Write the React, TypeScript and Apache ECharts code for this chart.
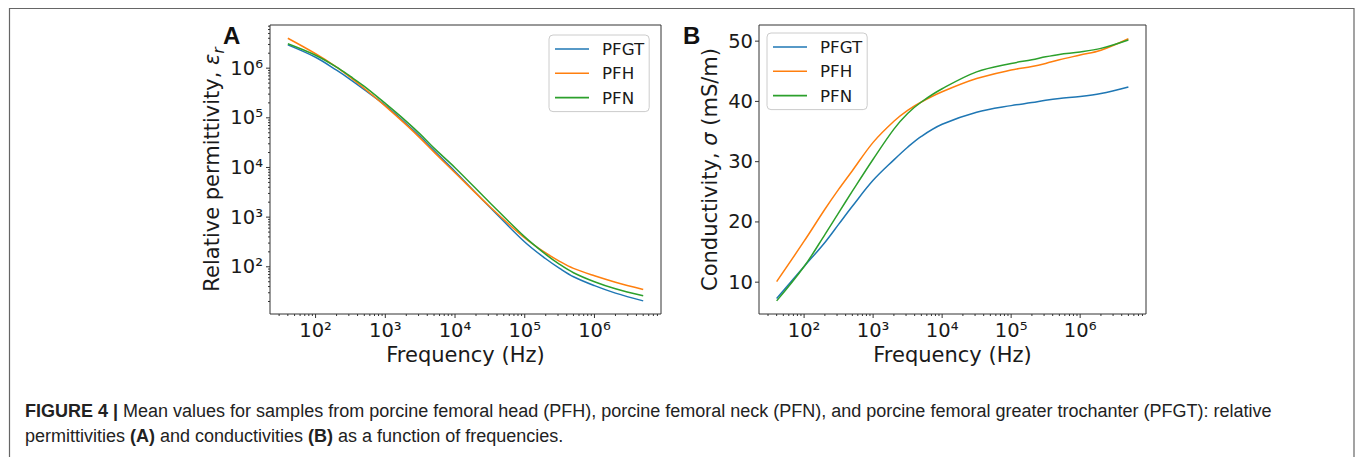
import React, { useEffect, useRef } from "react";
import * as echarts from "echarts";

// ---------- data ----------
const freqs = [
  40, 100, 200, 316, 500, 1000, 2000, 3162, 5000, 10000, 31623, 100000, 200000, 316228, 500000, 1000000, 2000000, 5000000,
];
const seriesNames = ["PFGT", "PFH", "PFN"];

// Panel A: relative permittivity
const permPFGT = [2.95e6, 1.66e6, 9.1e5, 5.9e5, 3.7e5, 1.78e5, 7.6e4, 4.2e4, 2.19e4, 8.3e3, 1.58e3, 316, 145, 93, 63, 41.7, 29.5, 20.6];
const permPFH = [4.0e6, 1.95e6, 1.05e6, 6.5e5, 3.9e5, 1.72e5, 7.2e4, 3.9e4, 2.04e4, 7.85e3, 1.62e3, 380, 190, 129, 93, 66, 49, 35];
const permPFN = [3.1e6, 1.82e6, 1.05e6, 6.8e5, 4.3e5, 1.95e5, 8.5e4, 4.7e4, 2.45e4, 9.9e3, 1.95e3, 400, 178, 112, 76, 50, 36, 26];

// Panel B: conductivity (mS/m)
const condPFGT = [7.3, 12.6, 16.6, 19.6, 22.6, 26.9, 30.3, 32.4, 34.2, 36.2, 38.2, 39.3, 39.8, 40.2, 40.5, 40.8, 41.3, 42.4];
const condPFH = [10.1, 16.8, 22.1, 25.4, 28.5, 33.2, 36.7, 38.5, 39.9, 41.6, 43.8, 45.2, 45.8, 46.3, 46.9, 47.7, 48.5, 50.4];
const condPFN = [6.9, 12.6, 17.9, 21.5, 25.1, 30.4, 35.4, 38.0, 39.9, 42.1, 44.9, 46.3, 46.9, 47.4, 47.8, 48.2, 48.8, 50.2];

// tick values
const majorFreqTicks = [100, 1000, 10000, 100000, 1000000];
const minorFreqTicks = [
  30, 40, 50, 60, 70, 80, 90,
  200, 300, 400, 500, 600, 700, 800, 900,
  2000, 3000, 4000, 5000, 6000, 7000, 8000, 9000,
  20000, 30000, 40000, 50000, 60000, 70000, 80000, 90000,
  200000, 300000, 400000, 500000, 600000, 700000, 800000, 900000,
  2000000, 3000000, 4000000, 5000000, 6000000, 7000000, 8000000,
];
const majorPermTicks = [100, 1000, 10000, 100000, 1000000];
const minorPermTicks = [
  20, 30, 40, 50, 60, 70, 80, 90,
  200, 300, 400, 500, 600, 700, 800, 900,
  2000, 3000, 4000, 5000, 6000, 7000, 8000, 9000,
  20000, 30000, 40000, 50000, 60000, 70000, 80000, 90000,
  200000, 300000, 400000, 500000, 600000, 700000, 800000, 900000,
  2000000, 3000000, 4000000, 5000000, 6000000, 7000000,
];
const condTicks = [10, 20, 30, 40, 50];

// axis ranges
const freqMin = 22.2;
const freqMax = 9.0e6;
const permMin = 11.2;
const permMax = 7.4e6;
const condMin = 4.72;
const condMax = 52.68;

const captionLine1 =
  "Mean values for samples from porcine femoral head (PFH), porcine femoral neck (PFN), and porcine femoral greater trochanter (PFGT): relative";

// ---------- styles ----------
const FONT = '"DejaVu Sans", sans-serif';
const CAP_FONT = '"Liberation Sans", Arial, sans-serif';
const COLORS = ["#1f77b4", "#ff7f0e", "#2ca02c"];
const INK = "#1a1a1a";
const TICK_SIZE = 19.5;
const NAME_SIZE = 21;

const SUP: Record<string, string> = {
  "0": "⁰", "1": "¹", "2": "²", "3": "³", "4": "⁴", "5": "⁵", "6": "⁶", "7": "⁷", "8": "⁸", "9": "⁹", "-": "⁻",
};

const pair = (xs: number[], ys: number[]) => xs.map((x, i) => [x, ys[i]]);

const logFormatter = (v: number) =>
  "10" + String(Math.round(Math.log10(v))).split("").map((c) => SUP[c] || c).join("");

const hiddenBits = {
  axisLine: { show: false },
  axisTick: { show: false },
  splitLine: { show: false },
  minorTick: { show: false },
  minorSplitLine: { show: false },
};

function tickSeries(xIdx: number, dir: "x" | "y", values: number[], ref: number, len: number) {
  return {
    type: "custom",
    name: "_ticks",
    xAxisIndex: xIdx,
    yAxisIndex: xIdx,
    silent: true,
    clip: false,
    z: 10,
    tooltip: { show: false },
    data: values.map((v) => (dir === "x" ? [v, ref] : [ref, v])),
    renderItem: (params: any, api: any) => {
      const cs = params.coordSys;
      const p = api.coord([api.value(0), api.value(1)]);
      if (dir === "x") {
        const y0 = cs.y + cs.height;
        return {
          type: "line",
          shape: { x1: p[0], y1: y0, x2: p[0], y2: y0 + len },
          style: { stroke: "#333", lineWidth: 1 },
        };
      }
      const x0 = cs.x;
      return {
        type: "line",
        shape: { x1: x0, y1: p[1], x2: x0 - len, y2: p[1] },
        style: { stroke: "#333", lineWidth: 1 },
      };
    },
  };
}

function lineSeries(name: string, idx: number, data: number[][], color: string) {
  return {
    type: "line",
    name,
    xAxisIndex: idx,
    yAxisIndex: idx,
    data,
    showSymbol: false,
    symbol: "none",
    smooth: 0.35,
    lineStyle: { width: 1.5, color },
    itemStyle: { color },
    z: 3,
  };
}

function legendAt(left: number, top: number) {
  return {
    data: seriesNames,
    orient: "vertical",
    left,
    top,
    icon: "rect",
    itemWidth: 34,
    itemHeight: 1.6,
    itemGap: 2.3,
    padding: [3, 5, 3, 6],
    backgroundColor: "rgba(255,255,255,0.8)",
    borderColor: "#cccccc",
    borderWidth: 1,
    borderRadius: 4,
    selectedMode: false,
    textStyle: { fontFamily: FONT, fontSize: 16.7, color: INK, lineHeight: 22, padding: [0, 0, 0, 8] },
  };
}

const logLabel = {
  show: true,
  showMinLabel: false,
  showMaxLabel: false,
  color: INK,
  fontFamily: FONT,
  fontSize: TICK_SIZE,
  formatter: logFormatter,
};

export default function App() {
  const ref = useRef<HTMLDivElement>(null);

  useEffect(() => {
    if (!ref.current) return;
    const chart = echarts.init(ref.current, null, { renderer: "svg" });

    const option: any = {
      animation: false,
      backgroundColor: "#ffffff",
      color: COLORS,
      grid: [
        { left: 270, top: 25, width: 391, height: 289, show: true, borderColor: "#333", borderWidth: 1, backgroundColor: "transparent" },
        { left: 759, top: 25, width: 387, height: 289, show: true, borderColor: "#333", borderWidth: 1, backgroundColor: "transparent" },
      ],
      xAxis: [0, 1].map((gi) => ({
        type: "log",
        logBase: 10,
        gridIndex: gi,
        min: freqMin,
        max: freqMax,
        ...hiddenBits,
        axisLabel: { ...logLabel, margin: 6 },
        name: "Frequency (Hz)",
        nameLocation: "middle",
        nameGap: 29,
        nameTextStyle: { fontFamily: FONT, fontSize: NAME_SIZE, color: INK },
      })),
      yAxis: [
        {
          type: "log",
          logBase: 10,
          gridIndex: 0,
          min: permMin,
          max: permMax,
          ...hiddenBits,
          axisLabel: { ...logLabel, margin: 7 },
          name: "{n|Relative permittivity, }{i|ε}{r|r}",
          nameLocation: "middle",
          nameGap: 47,
          nameTextStyle: {
            color: INK,
            rich: {
              n: { fontFamily: FONT, fontSize: NAME_SIZE, color: INK, lineHeight: 22, verticalAlign: "top" },
              i: { fontFamily: FONT, fontSize: NAME_SIZE, fontStyle: "italic", color: INK, lineHeight: 22, verticalAlign: "top" },
              r: { fontFamily: FONT, fontSize: 15, fontStyle: "italic", color: INK, lineHeight: 15, verticalAlign: "top", padding: [10, 0, 0, 0] },
            },
          },
        },
        {
          type: "value",
          gridIndex: 1,
          min: condMin,
          max: condMax,
          ...hiddenBits,
          axisLabel: {
            show: true,
            showMinLabel: false,
            showMaxLabel: false,
            margin: 6,
            color: INK,
            fontFamily: FONT,
            fontSize: TICK_SIZE,
          },
          name: "{n|Conductivity, }{i|σ}{n| (mS/m)}",
          nameLocation: "middle",
          nameGap: 39,
          nameTextStyle: {
            color: INK,
            rich: {
              n: { fontFamily: FONT, fontSize: NAME_SIZE, color: INK },
              i: { fontFamily: FONT, fontSize: NAME_SIZE, fontStyle: "italic", color: INK },
            },
          },
        },
      ],
      legend: [legendAt(549, 35), legendAt(767, 33)],
      series: [
        lineSeries("PFGT", 0, pair(freqs, permPFGT), COLORS[0]),
        lineSeries("PFH", 0, pair(freqs, permPFH), COLORS[1]),
        lineSeries("PFN", 0, pair(freqs, permPFN), COLORS[2]),
        lineSeries("PFGT", 1, pair(freqs, condPFGT), COLORS[0]),
        lineSeries("PFH", 1, pair(freqs, condPFH), COLORS[1]),
        lineSeries("PFN", 1, pair(freqs, condPFN), COLORS[2]),
        tickSeries(0, "x", majorFreqTicks, 1000, 4),
        tickSeries(0, "x", minorFreqTicks, 1000, 2),
        tickSeries(0, "y", majorPermTicks, 1000, 4),
        tickSeries(0, "y", minorPermTicks, 1000, 2),
        tickSeries(1, "x", majorFreqTicks, 20, 4),
        tickSeries(1, "x", minorFreqTicks, 20, 2),
        tickSeries(1, "y", condTicks, 1000, 4),
      ],
      graphic: {
        elements: [
          {
            type: "rect",
            silent: true,
            shape: { x: 9.5, y: 8.5, width: 1344.5, height: 600 },
            style: { fill: "none", stroke: "#666", lineWidth: 1.2 },
          },
          {
            type: "text",
            x: 223,
            y: 35.3,
            style: { text: "A", fontFamily: CAP_FONT, fontWeight: "bold", fontSize: 24, fill: "#111", verticalAlign: "middle" },
          },
          {
            type: "text",
            x: 683,
            y: 35.3,
            style: { text: "B", fontFamily: CAP_FONT, fontWeight: "bold", fontSize: 24, fill: "#111", verticalAlign: "middle" },
          },
          {
            type: "text",
            x: 25,
            y: 411,
            style: {
              text: `{b|FIGURE 4 | }{n|${captionLine1}}`,
              verticalAlign: "middle",
              rich: {
                b: { fontFamily: CAP_FONT, fontWeight: "bold", fontSize: 18, fill: "#222" },
                n: { fontFamily: CAP_FONT, fontSize: 18, fill: "#222" },
              },
            },
          },
          {
            type: "text",
            x: 25,
            y: 436,
            style: {
              text: "{n|permittivities }{b|(A)}{n| and conductivities }{b|(B)}{n| as a function of frequencies.}",
              verticalAlign: "middle",
              rich: {
                b: { fontFamily: CAP_FONT, fontWeight: "bold", fontSize: 18, fill: "#222" },
                n: { fontFamily: CAP_FONT, fontSize: 18, fill: "#222" },
              },
            },
          },
        ],
      },
    };

    chart.setOption(option);
    return () => chart.dispose();
  }, []);

  return (
    <div
      ref={ref}
      style={{ position: "fixed", left: 0, top: 0, width: 1357, height: 457, background: "#fff" }}
    />
  );
}
